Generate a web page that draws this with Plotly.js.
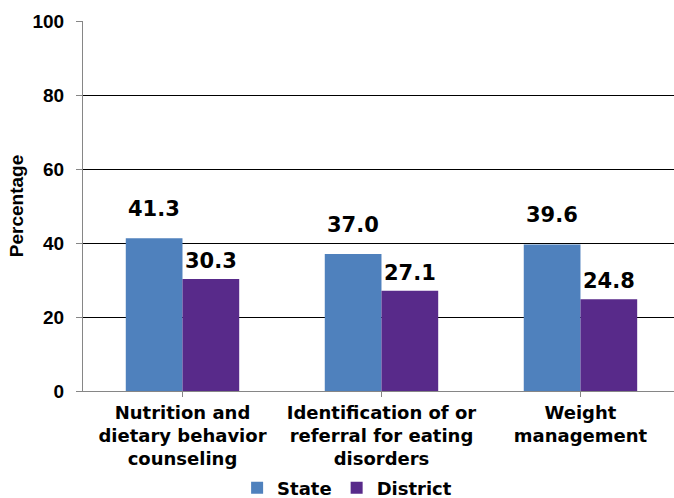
<!DOCTYPE html>
<html>
<head>
<meta charset="utf-8">
<script src="https://cdn.plot.ly/plotly-3.0.1.min.js"></script>
<style>html,body{margin:0;padding:0;background:#fff}#chart{width:674px;height:498px}</style>
</head>
<body>
<div id="chart"></div>
<script>
var categories = ["Nutrition and<br>dietary behavior<br>counseling", "Identification of or<br>referral for eating<br>disorders", "Weight<br>management"];
var stateValues = [41.3, 37.0, 39.6];
var districtValues = [30.3, 27.1, 24.8];
var seriesNames = ["State", "District"];
var yTicks = [0, 20, 40, 60, 80, 100];

var stateColor = "#4F81BD";
var districtColor = "#582A8A";
var bargap = 0.43;
var barW = (1 - bargap) / 2;

var traces = [
  {type: "bar", name: seriesNames[0], x: [0, 1, 2], y: stateValues, marker: {color: stateColor}, hoverinfo: "skip"},
  {type: "bar", name: seriesNames[1], x: [0, 1, 2], y: districtValues, marker: {color: districtColor}, hoverinfo: "skip"}
];

var annotations = [];
stateValues.forEach(function (v, i) {
  annotations.push({x: i - barW / 2, y: v, xref: "x", yref: "y", text: v.toFixed(1), showarrow: false,
    yanchor: "middle", yshift: 29, font: {family: "DejaVu Sans", size: 21, color: "#000", weight: "bold"}});
});
districtValues.forEach(function (v, i) {
  annotations.push({x: i + barW / 2, y: v, xref: "x", yref: "y", text: v.toFixed(1), showarrow: false,
    yanchor: "middle", yshift: 18, font: {family: "DejaVu Sans", size: 21, color: "#000", weight: "bold"}});
});

var layout = {
  width: 674, height: 498,
  margin: {l: 83, r: 0, t: 21, b: 107, autoexpand: false},
  paper_bgcolor: "#fff", plot_bgcolor: "#fff",
  barmode: "group", bargap: bargap, bargroupgap: 0,
  showlegend: true,
  legend: {orientation: "h", xref: "container", yref: "paper", x: 0.515, xanchor: "center", y: -0.262, yanchor: "middle",
    font: {family: "DejaVu Sans", size: 18, color: "#000", weight: "bold"}, itemwidth: 30, tracegroupgap: 0, traceorder: "normal"},
  xaxis: {
    range: [-0.5, 2.47], tickvals: [0, 1, 2], ticktext: categories, tickson: "boundaries", automargin: false,
    ticks: "outside", ticklen: 5, tickcolor: "#868686", showline: true, linecolor: "#868686", linewidth: 1,
    showgrid: false, zeroline: false, fixedrange: true,
    tickfont: {family: "DejaVu Sans", size: 18, color: "#000", weight: "bold"}
  },
  yaxis: {
    range: [0, 100], tickvals: yTicks, ticks: "outside", ticklen: 6, tickcolor: "#868686", automargin: false,
    showline: true, linecolor: "#868686", linewidth: 1, showgrid: true, gridcolor: "#000", gridwidth: 1,
    zeroline: false, fixedrange: true, ticklabelstandoff: 8,
    tickfont: {family: "Liberation Sans", size: 19, color: "#000", weight: "bold"},
    title: {text: "Percentage", standoff: 3, font: {family: "Liberation Sans", size: 19, color: "#000", weight: "bold"}}
  },
  annotations: annotations
};

Plotly.newPlot("chart", traces, layout, {displayModeBar: false, staticPlot: true});
</script>
</body>
</html>
